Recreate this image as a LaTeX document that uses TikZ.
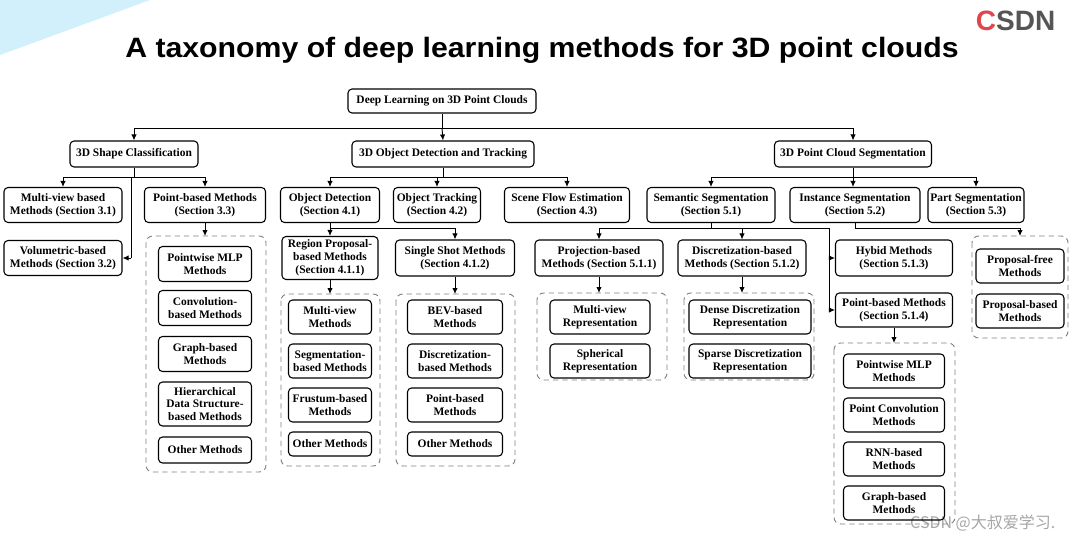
\documentclass[tikz,border=0pt]{standalone}
\usepackage{fontspec}
\setmainfont{Liberation Serif}
\newfontfamily\sansf{Liberation Sans}
\newfontfamily\cjkf{Noto Sans CJK SC}
\usetikzlibrary{arrows.meta}
\begin{document}
\begin{tikzpicture}[x=0.75pt,y=-0.75pt,
  bx/.style={draw,rounded corners=3pt,line width=0.8pt,align=center,inner sep=0pt,
    font=\fontsize{8.6}{9.6}\selectfont\bfseries},
  ctn/.style={draw=gray,dashed,dash pattern=on 4pt off 3pt,rounded corners=5pt,line width=0.7pt},
  ar/.style={-{Latex[length=4.5pt,width=4pt]},line width=0.7pt},
  ln/.style={line width=0.7pt}]
\newcommand\bx[6]{\node[bx,minimum width=#4*0.75pt,minimum height=#5*0.75pt] (#1) at (#2,#3) {#6};}
\useasboundingbox (0,0) rectangle (1074,542);
\fill[white] (0,0) rectangle (1074,542);
\fill[cyan!18] (0,0) -- (150,0) -- (0,55) -- cycle;
\node[font=\sansf\fontsize{21}{24}\selectfont\bfseries,xscale=1.08] (title) at (542,50) {A taxonomy of deep learning methods for 3D point clouds};
\node[font=\sansf\fontsize{21}{24}\selectfont\bfseries,anchor=east] (logo) at (1060,21) {\textcolor[HTML]{E0474C}{C}\textcolor[HTML]{555555}{SDN}};
\node[font=\cjkf\fontsize{12}{14}\selectfont,text=gray!70,anchor=east] (wm) at (1060,523) {CSDN @大叔爱学习.};
% level 0/1
\bx{root}{442}{101}{188}{24}{Deep Learning on 3D Point Clouds}
\bx{sc}{134}{154}{128}{26}{3D Shape Classification}
\bx{odt}{443}{154}{182}{26}{3D Object Detection and Tracking}
\bx{pcs}{853}{154}{157}{26}{3D Point Cloud Segmentation}
\coordinate (r1) at (442,128);
\draw[ln] (root) -- (r1);
\draw[ar] (r1) -| (sc.north);
\draw[ar] (r1) -- (odt.north);
\draw[ar] (r1) -| (pcs.north);
% shape classification
\bx{mv}{63}{205}{118}{35}{Multi-view based\\Methods (Section 3.1)}
\bx{pb}{205}{205}{121}{35}{Point-based Methods\\(Section 3.3)}
\bx{vol}{63}{258}{118}{35}{Volumetric-based\\Methods (Section 3.2)}
\coordinate (s1) at (134,177);
\coordinate (s2) at (131,177);
\coordinate (s3) at (131,258);
\draw[ln] (sc) -- (s1);
\draw[ar] (s1) -| (mv.north);
\draw[ar] (s1) -| (pb.north);
\draw[ln] (s2) -- (s3);
\draw[ar] (s3) -- (vol.east);
\draw[ctn] (146,236) rectangle (266,472);
\coordinate (c1) at (205,236);
\draw[ar] (pb.south) -- (c1);
\bx{pw}{205}{264}{93}{35}{Pointwise MLP\\Methods}
\bx{conv}{205}{308}{93}{35}{Convolution-\\based Methods}
\bx{gr}{205}{354}{93}{35}{Graph-based\\Methods}
\bx{hier}{205}{404}{93}{44}{Hierarchical\\Data Structure-\\based Methods}
\bx{oth}{205}{450}{93}{26}{Other Methods}
% detection
\bx{od}{330}{205}{99}{35}{Object Detection\\(Section 4.1)}
\bx{ot}{437}{205}{87}{35}{Object Tracking\\(Section 4.2)}
\bx{sf}{567}{205}{125}{35}{Scene Flow Estimation\\(Section 4.3)}
\coordinate (d1) at (443,177);
\draw[ln] (odt) -- (d1);
\draw[ar] (d1) -| (od.north);
\draw[ar] (d1) -| (ot.north);
\draw[ar] (d1) -| (sf.north);
\bx{rp}{330}{258}{96}{43}{Region Proposal-\\based Methods\\(Section 4.1.1)}
\bx{ss}{455}{258}{119}{36}{Single Shot Methods\\(Section 4.1.2)}
\coordinate (d2) at (330,228);
\draw[ln] (od) -- (d2);
\draw[ar] (d2) -- (rp.north);
\draw[ar] (d2) -| (ss.north);
\draw[ctn] (281,294) rectangle (380,466);
\draw[ctn] (396,294) rectangle (515,466);
\coordinate (c2) at (330,294);
\coordinate (c3) at (455,294);
\draw[ar] (rp.south) -- (c2);
\draw[ar] (ss.south) -- (c3);
\bx{mvm}{330}{317}{83}{34}{Multi-view\\Methods}
\bx{segm}{330}{361}{83}{34}{Segmentation-\\based Methods}
\bx{fru}{330}{405}{83}{34}{Frustum-based\\Methods}
\bx{oth1}{330}{444}{83}{24}{Other Methods}
\bx{bev}{455}{317}{95}{34}{BEV-based\\Methods}
\bx{disc}{455}{361}{95}{34}{Discretization-\\based Methods}
\bx{ptb}{455}{405}{95}{34}{Point-based\\Methods}
\bx{oth2}{455}{444}{95}{24}{Other Methods}
% segmentation
\bx{sem}{711}{205}{128}{35}{Semantic Segmentation\\(Section 5.1)}
\bx{ins}{855}{205}{130}{35}{Instance Segmentation\\(Section 5.2)}
\bx{part}{976}{205}{96}{35}{Part Segmentation\\(Section 5.3)}
\coordinate (p1) at (853,177);
\draw[ln] (pcs) -- (p1);
\draw[ar] (p1) -| (sem.north);
\draw[ar] (p1) -- (p1 |- ins.north);
\draw[ar] (p1) -| (part.north);
\bx{proj}{599}{258}{128}{36}{Projection-based\\Methods (Section 5.1.1)}
\bx{dis}{742}{258}{128}{36}{Discretization-based\\Methods (Section 5.1.2)}
\bx{hyb}{894}{258}{117}{36}{Hybid Methods\\(Section 5.1.3)}
\bx{pbm}{894}{310}{117}{34}{Point-based Methods\\(Section 5.1.4)}
\coordinate (e1) at (711,228);
\coordinate (e2) at (829,228);
\coordinate (e3) at (829,258);
\coordinate (e4) at (829,310);
\draw[ln] (sem) -- (e1);
\draw[ar] (e1) -| (proj.north);
\draw[ar] (e1) -| (dis.north);
\draw[ln] (e1) -- (e2) -- (e4);
\draw[ar] (e3) -- (hyb.west);
\draw[ar] (e4) -- (pbm.west);
\draw[ctn] (537,293) rectangle (667,380);
\draw[ctn] (684,293) rectangle (814,380);
\coordinate (c4) at (599,293);
\coordinate (c5) at (742,293);
\draw[ar] (proj.south) -- (c4);
\draw[ar] (dis.south) -- (c5);
\bx{mvr}{600}{317}{100}{34}{Multi-view\\Representation}
\bx{sph}{600}{361}{100}{34}{Spherical\\Representation}
\bx{dense}{750}{317}{122}{34}{Dense Discretization\\Representation}
\bx{sparse}{750}{361}{122}{34}{Sparse Discretization\\Representation}
\coordinate (f1) at (855,228);
\coordinate (f2) at (1020,228);
\coordinate (c6) at (1020,236);
\draw[ln] (ins) -- (f1) -- (f2);
\draw[ar] (f2) -- (c6);
\draw[ctn] (972,236) rectangle (1068,338);
\bx{pf}{1020}{266}{88}{34}{Proposal-free\\Methods}
\bx{pbs}{1020}{311}{88}{34}{Proposal-based\\Methods}
\draw[ctn] (834,343) rectangle (955,524);
\coordinate (c7) at (894,343);
\draw[ar] (pbm.south) -- (c7);
\bx{pmlp}{894}{371}{101}{34}{Pointwise MLP\\Methods}
\bx{pconv}{894}{415}{101}{34}{Point Convolution\\Methods}
\bx{rnn}{894}{459}{101}{34}{RNN-based\\Methods}
\bx{gb}{894}{503}{101}{34}{Graph-based\\Methods}
\end{tikzpicture}
\end{document}
